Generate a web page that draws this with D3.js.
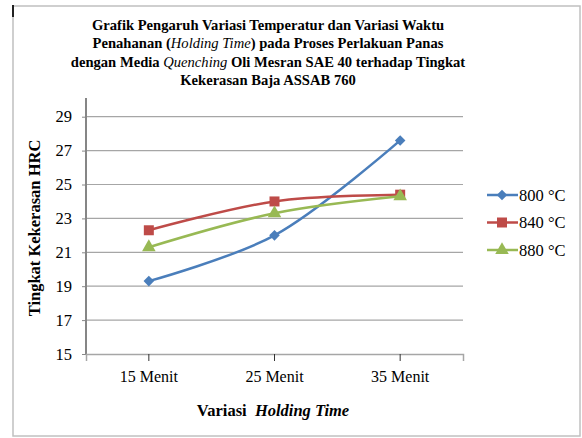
<!DOCTYPE html>
<html>
<head>
<meta charset="utf-8">
<script src="https://cdn.jsdelivr.net/npm/d3@7"></script>
<style>
  body { margin: 0; background: #fff; }
</style>
</head>
<body>
<svg width="582" height="438"></svg>
<script>
// categories and series
const categories = ["15 Menit", "25 Menit", "35 Menit"];
const seriesNames = ["800 °C", "840 °C", "880 °C"];
const s800 = [19.3, 22.0, 27.6];
const s840 = [22.3, 24.0, 24.4];
const s880 = [21.3, 23.3, 24.3];
const yTicks = [15, 17, 19, 21, 23, 25, 27, 29];

const colors = ["#4a7ebb", "#be4b48", "#98b954"];
const series = [s800, s840, s880];
const font = "Liberation Serif";

// excel-like markers: diamond is a square turned 45 degrees
const markerPath = [
    d3.symbol().type(d3.symbolSquare).size(56)(),
    d3.symbol().type(d3.symbolSquare).size(100)(),
    d3.symbol().type(d3.symbolTriangle).size(80)()
];
const markerRot = [45, 0, 0];

const svg = d3.select("svg");

// chart frame
svg.append("rect")
    .attr("x", 13).attr("y", 6)
    .attr("width", 567).attr("height", 430)
    .attr("fill", "none")
    .attr("stroke", "#c0c0c0")
    .attr("stroke-width", 1.5);
svg.append("line")
    .attr("x1", 13).attr("x2", 13).attr("y1", 5).attr("y2", 17)
    .attr("stroke", "#222").attr("stroke-width", 2);

// title, four centred lines
const titleLines = [
    [["Grafik Pengaruh Variasi Temperatur dan Variasi Waktu", false]],
    [["Penahanan (", false], ["Holding Time", true], [") pada Proses Perlakuan Panas", false]],
    [["dengan Media ", false], ["Quenching", true], [" Oli Mesran SAE 40 terhadap Tingkat", false]],
    [["Kekerasan Baja ASSAB 760", false]]
];
const title = svg.append("text")
    .attr("text-anchor", "middle")
    .attr("font-family", font)
    .attr("font-size", 14.6)
    .attr("font-weight", "bold");
titleLines.forEach((line, i) => {
    line.forEach((part, j) => {
        const t = title.append("tspan").text(part[0])
            .attr("font-style", part[1] ? "italic" : null)
            .attr("font-weight", part[1] ? "normal" : null);
        if (j === 0) t.attr("x", 268).attr("y", 30 + i * 18.4);
    });
});

// scales
const pLeft = 86, pRight = 463, pTop = 98, pBottom = 354;
const x = d3.scaleBand().domain(categories).range([pLeft, pRight]);
const y = d3.scaleLinear().domain([15, 29]).range([pBottom, 116.7]);

// gridlines
svg.append("g").selectAll("line")
    .data(yTicks.slice(1))
    .join("line")
    .attr("x1", pLeft).attr("x2", pRight)
    .attr("y1", d => y(d)).attr("y2", d => y(d))
    .attr("stroke", "#a6a6a6")
    .attr("stroke-width", 1.2);

// y axis
const yAxis = svg.append("g")
    .attr("transform", `translate(${pLeft},0)`)
    .call(d3.axisLeft(y).tickValues(yTicks).tickSize(4).tickPadding(10));
yAxis.select(".domain").remove();
yAxis.attr("font-family", font);
yAxis.selectAll(".tick line").attr("stroke", "#888");
yAxis.selectAll("text").attr("font-size", 16.5).attr("fill", "#000");
svg.append("line")
    .attr("x1", pLeft).attr("x2", pLeft).attr("y1", pTop).attr("y2", pBottom)
    .attr("stroke", "#868686").attr("stroke-width", 2);

// x axis
const xAxis = svg.append("g")
    .attr("transform", `translate(0,${pBottom})`)
    .call(d3.axisBottom(x).tickSize(7).tickPadding(10));
xAxis.attr("font-family", font);
xAxis.select(".domain").attr("stroke", "#a6a6a6").attr("stroke-width", 1.5);
xAxis.selectAll(".tick line").attr("stroke", "#333");
xAxis.selectAll("text").attr("font-size", 16).attr("fill", "#000");

// axis titles
svg.append("text")
    .attr("transform", "translate(40,228) rotate(-90)")
    .attr("text-anchor", "middle")
    .attr("font-family", font)
    .attr("font-size", 16.5)
    .attr("font-weight", "bold")
    .text("Tingkat Kekerasan HRC");

const xt = svg.append("text")
    .attr("x", 273).attr("y", 416)
    .attr("text-anchor", "middle")
    .attr("font-family", font)
    .attr("font-size", 16.5)
    .attr("font-weight", "bold");
xt.append("tspan").text("Variasi\u00a0\u00a0");
xt.append("tspan").attr("font-style", "italic").text("Holding Time");

// lines and markers
const line = d3.line()
    .x((d, i) => x(categories[i]) + x.bandwidth() / 2)
    .y(d => y(d))
    .curve(d3.curveCatmullRom.alpha(0.5));

series.forEach((vals, k) => {
    svg.append("path")
        .attr("d", line(vals))
        .attr("fill", "none")
        .attr("stroke", colors[k])
        .attr("stroke-width", 2.5);
    svg.append("g").selectAll("path")
        .data(vals)
        .join("path")
        .attr("transform", (d, i) => `translate(${x(categories[i]) + x.bandwidth() / 2},${y(d)}) rotate(${markerRot[k]})`)
        .attr("d", markerPath[k])
        .attr("fill", colors[k]);
});

// legend
const legend = svg.append("g");
seriesNames.forEach((name, k) => {
    const ly = 195 + k * 27.5;
    legend.append("line")
        .attr("x1", 487).attr("x2", 518).attr("y1", ly).attr("y2", ly)
        .attr("stroke", colors[k]).attr("stroke-width", 2.5);
    legend.append("path")
        .attr("transform", `translate(502,${ly}) rotate(${markerRot[k]})`)
        .attr("d", markerPath[k])
        .attr("fill", colors[k]);
    legend.append("text")
        .attr("x", 519).attr("y", ly + 5.5)
        .attr("font-family", font)
        .attr("font-size", 16.5)
        .text(name);
});
</script>
</body>
</html>
